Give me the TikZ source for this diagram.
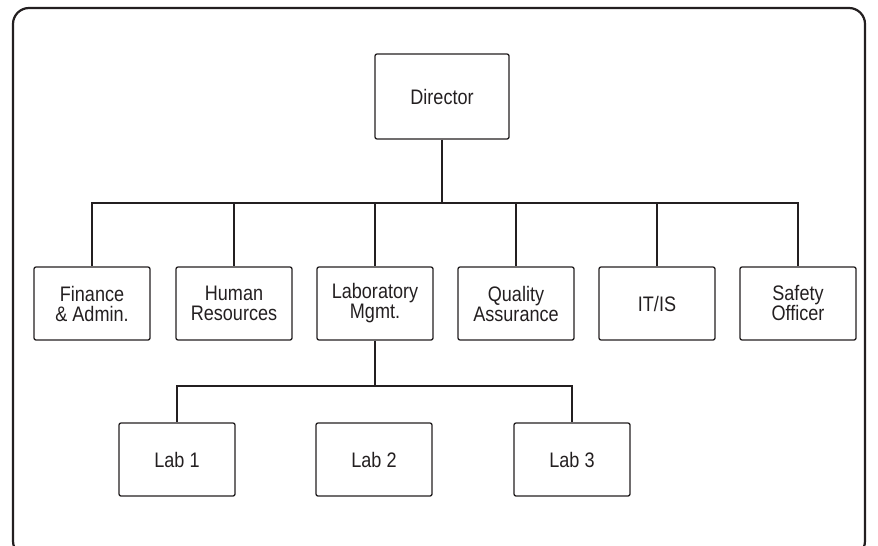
\documentclass[tikz,border=0pt]{standalone}
\usepackage{fontspec}
\setmainfont{Liberation Sans}[FakeStretch=0.86]
\definecolor{ink}{HTML}{231F20}
\begin{document}
\begin{tikzpicture}[x=1pt,y=-1pt,
  box/.style={draw=ink, line width=1.3pt, rounded corners=2pt, inner sep=0pt,
    align=center, text=ink, font={\fontsize{21}{20}\selectfont}},
  lvl/.style={box, minimum width=116pt, minimum height=73pt},
  labbox/.style={box, minimum width=116pt, minimum height=73pt},
  conn/.style={draw=ink, line width=1.3pt}]
\useasboundingbox (0,0) rectangle (878,546);
\draw[ink, line width=2.2pt, rounded corners=16pt] (13,8) rectangle (865,557);
\node[box, minimum width=134pt, minimum height=85pt] (dir) at (442,96.5) {Director};
\node[lvl] (fin) at (92,303.5) {Finance\\\& Admin.};
\node[lvl] (hr) at (234,303.5) {Human\\Resources};
\node[lvl] (lab) at (375,303.5) {Laboratory\\Mgmt.};
\node[lvl] (qa) at (516,303.5) {Quality\\Assurance};
\node[lvl] (it) at (657,303.5) {IT/IS};
\node[lvl] (saf) at (798,303.5) {Safety\\Officer};
\node[labbox] (l1) at (177,459.5) {Lab 1};
\node[labbox] (l2) at (374,459.5) {Lab 2};
\node[labbox] (l3) at (572,459.5) {Lab 3};
\coordinate (bar) at (442,203);
\coordinate (lbar) at (375,386);
\draw[conn] (dir.south) -- (bar);
\foreach \n in {fin,hr,lab,qa,it,saf} \draw[conn] (bar) -| (\n.north);
\draw[conn] (lab.south) -- (lbar);
\draw[conn] (lbar) -| (l1.north);
\draw[conn] (lbar) -| (l3.north);
\end{tikzpicture}
\end{document}
